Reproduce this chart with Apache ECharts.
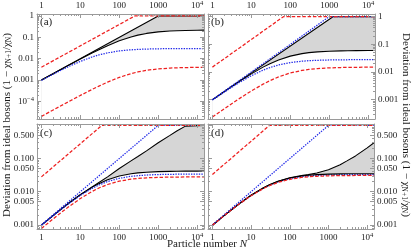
<!DOCTYPE html>
<html><head><meta charset="utf-8">
<script src="https://cdn.jsdelivr.net/npm/echarts@6/dist/echarts.min.js"></script>
<style>html,body{margin:0;padding:0;background:#fff}#c{width:415px;height:250px}</style>
</head><body><div id="c"></div>
<script>
// ---- tick values & labels ----
const xTicks = [1, 10, 100, 1000, 10000];
const xTickLabels = ['1', '10', '100', '1000', '10^4'];
const yTicksA = [1, 0.1, 0.01, 0.001, 0.0001];
const yTickLabelsA = ['1', '0.1', '0.01', '0.001', '10^−4'];
const yTicksB = [1, 0.1, 0.01, 0.001];
const yTickLabelsB = ['1', '0.1', '0.01', '0.001'];
const yTicksCD = [1, 0.5, 0.1, 0.05, 0.01, 0.005, 0.001];
const yTickLabelsCD = ['1.000', '0.500', '0.100', '0.050', '0.010', '0.005', '0.001'];
const panelTags = ['(a)', '(b)', '(c)', '(d)'];

// ---- particle numbers shared by the smooth curves ----
const N = [1, 2, 3, 5, 10, 20, 30, 50, 100, 200, 300, 500, 1000, 2000, 3000, 5000, 10000, 15000];

// ---- panel (a) ----
const aRedUpper = [[1, 0.004], [250, 1], [15000, 1]];
const aBlackUpper = [[1, 0.001], [1000, 1], [15000, 1]];
const aBlackLower = [0.000996, 0.001982, 0.00296, 0.004889, 0.009565, 0.01833, 0.0264, 0.04074, 0.06875, 0.10476, 0.12692, 0.15278, 0.18033, 0.1982, 0.20497, 0.21073, 0.21526, 0.21682];
const aBlueLower = [0.000968, 0.001875, 0.002727, 0.004286, 0.0075, 0.012, 0.015, 0.01875, 0.02308, 0.02609, 0.02727, 0.0283, 0.02913, 0.02956, 0.0297, 0.02982, 0.02991, 0.02994];
const aRedLower = [1.99e-5, 3.96e-5, 5.91e-5, 9.76e-5, 1.905e-4, 3.636e-4, 5.217e-4, 8.0e-4, 1.333e-3, 2.0e-3, 2.4e-3, 2.857e-3, 3.333e-3, 3.636e-3, 3.75e-3, 3.846e-3, 3.922e-3, 3.947e-3];

// ---- panel (b) ----
const bRedUpper = [[1, 0.015], [66.7, 1], [15000, 1]];
const bBlueUpper = [[1, 0.001], [1000, 1], [15000, 1]];
const bBlackUpper = [[1, 0.001], [1250, 1], [15000, 1]];
const bBlackLower = [0.000984, 0.001935, 0.002857, 0.004615, 0.008571, 0.015, 0.02, 0.02727, 0.0375, 0.04615, 0.05, 0.05357, 0.0566, 0.05825, 0.05882, 0.05929, 0.05964, 0.05976];
const bBlueLower = [0.000966, 0.001867, 0.00271, 0.004242, 0.007368, 0.011667, 0.014483, 0.017949, 0.021875, 0.024561, 0.02561, 0.026515, 0.027237, 0.027613, 0.027741, 0.027844, 0.027922, 0.027948];
const bRedLower = [2.362e-4, 4.651e-4, 6.87e-4, 1.111e-3, 2.069e-3, 3.636e-3, 4.865e-3, 6.667e-3, 9.231e-3, 1.1429e-2, 1.2414e-2, 1.3333e-2, 1.4118e-2, 1.4545e-2, 1.4694e-2, 1.4815e-2, 1.4907e-2, 1.4938e-2];

// ---- panel (c) ----
const cRedUpper = [[1, 0.028], [35.7, 1], [15000, 1]];
const cBlueUpper = [[1, 0.001], [1000, 1], [15000, 1]];
const cBlackUpper = [[1, 0.000977], [2, 0.00191], [3, 0.0028], [5, 0.00447], [10, 0.0081], [20, 0.0139], [30, 0.019], [50, 0.028], [100, 0.05], [200, 0.085], [300, 0.115], [500, 0.17], [1000, 0.3], [2000, 0.5], [3000, 0.68], [5000, 0.95], [5500, 1], [15000, 1]];
const cBlackLower = [0.000977, 0.001909, 0.0028, 0.004468, 0.008077, 0.013548, 0.0175, 0.022826, 0.029577, 0.034711, 0.036842, 0.038745, 0.040307, 0.041136, 0.04142, 0.04165, 0.041825, 0.041883];
const cBlueLower = [0.000971, 0.001889, 0.002757, 0.004359, 0.007727, 0.012593, 0.015938, 0.020238, 0.025373, 0.02906, 0.030539, 0.031835, 0.032882, 0.033431, 0.033619, 0.03377, 0.033885, 0.033923];
const cRedLower = [0.000778, 0.001514, 0.002211, 0.0035, 0.006222, 0.010182, 0.012923, 0.016471, 0.020741, 0.02383, 0.025075, 0.026168, 0.027053, 0.027518, 0.027677, 0.027805, 0.027902, 0.027935];

// ---- panel (d) ----
const dRedUpper = [[1, 0.033], [30, 1], [15000, 1]];
const dBlueUpper = [[1, 0.001], [1000, 1], [15000, 1]];
const dBlackUpper = [0.000972, 0.001892, 0.002763, 0.004375, 0.00778, 0.01275, 0.0162, 0.0207, 0.0262, 0.0305, 0.0328, 0.0365, 0.046, 0.065, 0.085, 0.12, 0.21, 0.3];
const dBlackLower = [0.000972, 0.001892, 0.002763, 0.004375, 0.007778, 0.012727, 0.016154, 0.020588, 0.025926, 0.029787, 0.031343, 0.03271, 0.033816, 0.034398, 0.034596, 0.034757, 0.034878, 0.034919];
const dBlueLower = [0.000971, 0.001886, 0.00275, 0.004342, 0.007674, 0.012453, 0.015714, 0.01988, 0.024812, 0.028326, 0.02973, 0.030957, 0.031946, 0.032464, 0.032641, 0.032782, 0.032891, 0.032928];
const dRedLower = [0.000969, 0.001879, 0.002735, 0.004306, 0.007561, 0.012157, 0.015246, 0.019136, 0.023664, 0.02684, 0.028097, 0.02919, 0.030068, 0.030527, 0.030683, 0.030809, 0.030904, 0.030936];

// ================= rendering =================
const FONT = '"Liberation Serif", "DejaVu Serif", "Times New Roman", serif';
const FRAME = '#9a9a9a';
const TXT = '#1a1a1a';
const RED = '#ee2020';
const BLUE = '#2028e8';
const BLACK = '#000000';
const GREY = '#d6d6d6';
const X_MIN = 0.77, X_MAX = 15000;

const pairs = ys => N.map((n, i) => [n, ys[i]]);

function minorValues(lo, hi, majors) {
  const out = [];
  for (let e = -6; e <= 5; e++) {
    for (let k = 1; k <= 9; k++) {
      const v = +(k * Math.pow(10, e)).toPrecision(6);
      if (v >= lo && v <= hi && !majors.some(m => Math.abs(m - v) / v < 1e-6)) out.push(v);
    }
  }
  return out;
}
function fmtFrom(vals, labels) {
  return function (value) {
    let best = 0, bd = Infinity;
    vals.forEach((v, i) => { const d = Math.abs(Math.log10(v) - Math.log10(value)); if (d < bd) { bd = d; best = i; } });
    const s = labels[best];
    if (s.indexOf('^') >= 0) { const p = s.split('^'); return p[0] + '{sup|' + p[1] + '}'; }
    return s;
  };
}
const labelStyle = {
  fontFamily: FONT, fontSize: 9, color: TXT, lineHeight: 11,
  rich: { sup: { fontFamily: FONT, fontSize: 6.5, color: TXT, lineHeight: 6, verticalAlign: 'top' } }
};

const panels = [
  { grid: { left: 37, top: 13, width: 167, height: 106 }, ymin: 1.5e-5, ymax: 1.24, yt: yTicksA, yl: yTickLabelsA, xPos: 'top', yPos: 'left',
    bandTop: aBlackUpper, bandBot: pairs(aBlackLower),
    lines: [[aBlackUpper, BLACK], [pairs(aBlackLower), BLACK], [pairs(aBlueLower), BLUE], [aRedUpper, RED], [pairs(aRedLower), RED]] },
  { grid: { left: 208, top: 13, width: 167, height: 106 }, ymin: 2.0e-4, ymax: 1.25, yt: yTicksB, yl: yTickLabelsB, xPos: 'top', yPos: 'right',
    bandTop: bBlackUpper, bandBot: pairs(bBlackLower),
    lines: [[bBlackUpper, BLACK], [pairs(bBlackLower), BLACK], [bBlueUpper, BLUE], [pairs(bBlueLower), BLUE], [bRedUpper, RED], [pairs(bRedLower), RED]] },
  { grid: { left: 37, top: 124, width: 167, height: 105 }, ymin: 7.5e-4, ymax: 1.1, yt: yTicksCD, yl: yTickLabelsCD, xPos: 'bottom', yPos: 'left',
    bandTop: cBlackUpper, bandBot: pairs(cBlackLower),
    lines: [[cBlackUpper, BLACK], [pairs(cBlackLower), BLACK], [cBlueUpper, BLUE], [pairs(cBlueLower), BLUE], [cRedUpper, RED], [pairs(cRedLower), RED]] },
  { grid: { left: 208, top: 124, width: 166, height: 105 }, ymin: 7.5e-4, ymax: 1.1, yt: yTicksCD, yl: yTickLabelsCD, xPos: 'bottom', yPos: 'right',
    bandTop: pairs(dBlackUpper), bandBot: pairs(dBlackLower),
    lines: [[pairs(dBlueLower), BLUE], [pairs(dBlackUpper), BLACK], [pairs(dBlackLower), BLACK], [dBlueUpper, BLUE], [dRedUpper, RED], [pairs(dRedLower), RED]] }
];

const grids = [], xAxis = [], yAxis = [], series = [], graphic = [];
const xMinor = minorValues(X_MIN, X_MAX, xTicks);

panels.forEach((p, gi) => {
  grids.push(Object.assign({ containLabel: false }, p.grid));
  const xb = { type: 'log', logBase: 10, gridIndex: gi, min: X_MIN, max: X_MAX, z: 6, splitLine: { show: false } };
  ['bottom', 'top'].forEach(pos => {
    xAxis.push(Object.assign({}, xb, {
      position: pos,
      axisLine: { show: true, onZero: false, lineStyle: { color: FRAME, width: 1 } },
      axisTick: { show: true, inside: true, length: 4, customValues: xTicks, lineStyle: { color: FRAME, width: 1 } },
      axisLabel: Object.assign({ show: p.xPos === pos, customValues: xTicks, formatter: fmtFrom(xTicks, xTickLabels), margin: 3 }, labelStyle)
    }));
    xAxis.push(Object.assign({}, xb, {
      position: pos,
      axisLine: { show: false },
      axisTick: { show: true, inside: true, length: 2, customValues: xMinor, lineStyle: { color: FRAME, width: 1 } },
      axisLabel: { show: false }
    }));
  });
  const yMinor = minorValues(p.ymin, p.ymax, p.yt);
  const yb = { type: 'log', logBase: 10, gridIndex: gi, min: p.ymin, max: p.ymax, z: 6, splitLine: { show: false } };
  ['left', 'right'].forEach(pos => {
    yAxis.push(Object.assign({}, yb, {
      position: pos,
      axisLine: { show: true, onZero: false, lineStyle: { color: FRAME, width: 1 } },
      axisTick: { show: true, inside: true, length: 4, customValues: p.yt, lineStyle: { color: FRAME, width: 1 } },
      axisLabel: Object.assign({ show: p.yPos === pos, customValues: p.yt, formatter: fmtFrom(p.yt, p.yl), margin: 3 }, labelStyle)
    }));
    yAxis.push(Object.assign({}, yb, {
      position: pos,
      axisLine: { show: false },
      axisTick: { show: true, inside: true, length: 2, customValues: yMinor, lineStyle: { color: FRAME, width: 1 } },
      axisLabel: { show: false }
    }));
  });
  const xi = gi * 4, yi = gi * 4;
  // band: grey under the upper black curve, white under the lower black curve
  series.push({ type: 'line', xAxisIndex: xi, yAxisIndex: yi, data: p.bandTop, symbol: 'none', silent: true, z: 1,
    lineStyle: { width: 0, opacity: 0 }, areaStyle: { color: GREY, opacity: 1, origin: 'start' } });
  series.push({ type: 'line', xAxisIndex: xi, yAxisIndex: yi, data: p.bandBot, symbol: 'none', silent: true, z: 2,
    lineStyle: { width: 0, opacity: 0 }, areaStyle: { color: '#ffffff', opacity: 1, origin: 'start' } });
  p.lines.forEach(([data, color], k) => {
    series.push({ type: 'line', xAxisIndex: xi, yAxisIndex: yi, data, symbol: 'none', silent: true, z: 3,
      lineStyle: { color, width: color === BLACK ? 1.1 : 1.25,
        type: color === RED ? [3.5, 1.8] : color === BLUE ? [1.4, 1.2] : 'solid' } });
  });
  graphic.push({ type: 'text', left: p.grid.left + 3, top: p.grid.top + 4, z: 10,
    style: { text: panelTags[gi], font: '11px ' + FONT, fill: TXT } });
});

const titleText = '{n|Deviation from ideal bosons (1 − χ}{s|N+1}{n|/χ}{s|N}{n|)}';
const titleRich = {
  n: { fontFamily: FONT, fontSize: 11, fill: TXT, color: TXT, lineHeight: 13 },
  s: { fontFamily: FONT, fontSize: 7.5, fill: TXT, color: TXT, lineHeight: 7, verticalAlign: 'bottom' }
};
graphic.push({ type: 'text', x: 7, y: 125, rotation: Math.PI / 2, z: 10,
  style: { text: titleText, rich: titleRich, align: 'center', verticalAlign: 'middle', fill: TXT } });
graphic.push({ type: 'text', x: 406, y: 125, rotation: -Math.PI / 2, z: 10,
  style: { text: titleText, rich: titleRich, align: 'center', verticalAlign: 'middle', fill: TXT } });
graphic.push({ type: 'text', x: 207, y: 244, z: 10,
  style: { text: '{n|Particle number }{i|N}', align: 'center', verticalAlign: 'middle', fill: TXT,
    rich: { n: { fontFamily: FONT, fontSize: 11, fill: TXT }, i: { fontFamily: FONT, fontSize: 11, fontStyle: 'italic', fill: TXT } } } });

const chart = echarts.init(document.getElementById('c'), null, { renderer: 'canvas', width: 415, height: 250 });
chart.setOption({ animation: false, backgroundColor: '#ffffff', grid: grids, xAxis, yAxis, series, graphic });
</script>
</body></html>
